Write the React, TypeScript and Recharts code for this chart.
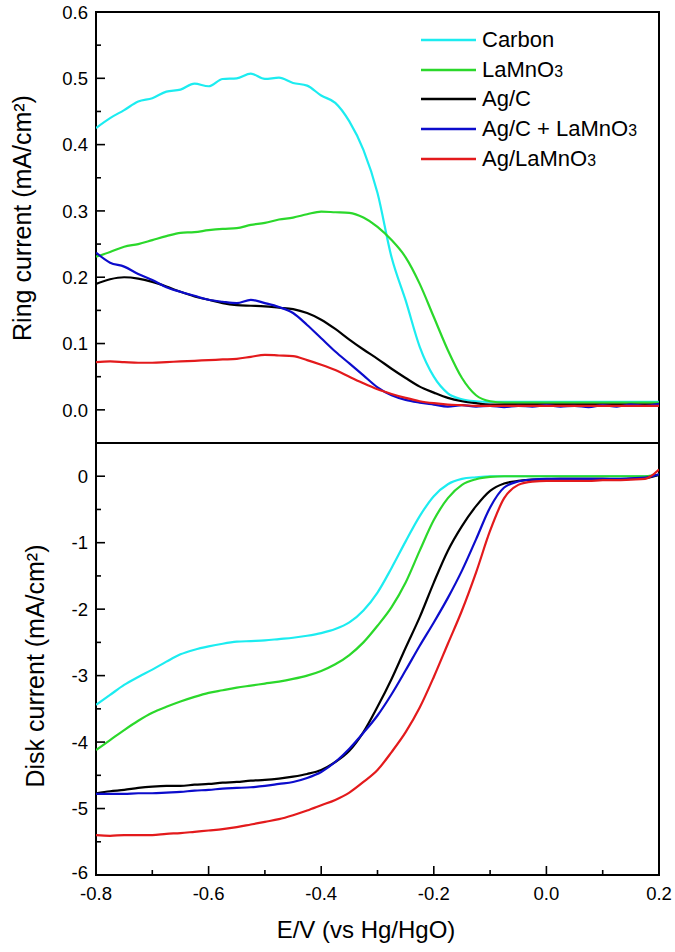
import React from "react";
import { Legend, Line, LineChart, ReferenceArea, XAxis, YAxis } from "recharts";

const FONT = '"Liberation Sans", Arial, Helvetica, sans-serif';

// potential, V vs Hg/HgO
const potential = [
  -0.8, -0.775, -0.75, -0.725, -0.7, -0.675, -0.65, -0.625, -0.6, -0.575,
  -0.55, -0.525, -0.5, -0.475, -0.45, -0.425, -0.4, -0.375, -0.35, -0.325,
  -0.3, -0.275, -0.25, -0.225, -0.2, -0.175, -0.15, -0.125, -0.1, -0.075,
  -0.05, -0.025, 0, 0.025, 0.05, 0.075, 0.1, 0.125, 0.15, 0.175, 0.2,
];

const seriesKeys = ["carbon", "lamno3", "agc", "agcMix", "agLamno3"];
const seriesNames = ["Carbon", "LaMnO3", "Ag/C", "Ag/C + LaMnO3", "Ag/LaMnO3"];
const seriesColors = ["#1cecf0", "#2bd82b", "#000000", "#0c0ccc", "#e31a1c"];

// ring current, mA/cm2
const ringCarbon = [
  0.425, 0.44, 0.452, 0.465, 0.47, 0.48, 0.483, 0.492, 0.488, 0.499,
  0.5, 0.507, 0.499, 0.501, 0.493, 0.489, 0.474, 0.463, 0.435, 0.392,
  0.327, 0.23, 0.165, 0.095, 0.05, 0.025, 0.016, 0.013, 0.012, 0.012,
  0.012, 0.012, 0.012, 0.012, 0.012, 0.012, 0.012, 0.012, 0.012, 0.012, 0.012,
];
const ringLaMnO3 = [
  0.231, 0.238, 0.246, 0.25, 0.256, 0.262, 0.267, 0.268, 0.271, 0.273,
  0.274, 0.279, 0.282, 0.287, 0.29, 0.295, 0.299, 0.298, 0.297, 0.29,
  0.276, 0.256, 0.23, 0.19, 0.14, 0.09, 0.048, 0.022, 0.013, 0.011,
  0.011, 0.011, 0.011, 0.011, 0.011, 0.011, 0.011, 0.011, 0.011, 0.011, 0.011,
];
const ringAgC = [
  0.19, 0.197, 0.2, 0.198, 0.193, 0.186, 0.178, 0.171, 0.166, 0.161,
  0.158, 0.157, 0.156, 0.154, 0.152, 0.146, 0.136, 0.122, 0.106, 0.091,
  0.077, 0.062, 0.048, 0.035, 0.026, 0.018, 0.013, 0.01, 0.008, 0.008,
  0.008, 0.008, 0.008, 0.008, 0.008, 0.008, 0.008, 0.008, 0.008, 0.008, 0.008,
];
const ringAgCMix = [
  0.237, 0.222, 0.216, 0.205, 0.196, 0.185, 0.178, 0.172, 0.166, 0.163,
  0.161, 0.166, 0.161, 0.155, 0.146, 0.128, 0.108, 0.088, 0.07, 0.052,
  0.034, 0.022, 0.015, 0.011, 0.008, 0.005, 0.007, 0.005, 0.006, 0.004,
  0.006, 0.005, 0.007, 0.005, 0.006, 0.004, 0.007, 0.005, 0.008, 0.006, 0.009,
];
const ringAgLaMnO3 = [
  0.072, 0.073, 0.072, 0.071, 0.071, 0.072, 0.073, 0.074, 0.075, 0.076,
  0.077, 0.08, 0.083, 0.082, 0.081, 0.075, 0.068, 0.06, 0.05, 0.04,
  0.031, 0.024, 0.018, 0.013, 0.01, 0.008, 0.007, 0.006, 0.006, 0.006,
  0.006, 0.006, 0.006, 0.006, 0.006, 0.006, 0.006, 0.006, 0.006, 0.006, 0.006,
];

// disk current, mA/cm2
const diskCarbon = [
  -3.44, -3.29, -3.14, -3.02, -2.91, -2.79, -2.68, -2.61, -2.56, -2.52,
  -2.49, -2.48, -2.47, -2.45, -2.43, -2.4, -2.36, -2.3, -2.2, -2.02,
  -1.75, -1.38, -0.98, -0.6, -0.3, -0.12, -0.04, -0.015, 0, 0,
  0, 0, 0, 0, 0, 0, 0, 0, 0, 0, 0.02,
];
const diskLaMnO3 = [
  -4.12, -3.97, -3.82, -3.68, -3.56, -3.47, -3.39, -3.32, -3.26, -3.22,
  -3.18, -3.15, -3.12, -3.09, -3.05, -3.0, -2.93, -2.83, -2.69, -2.5,
  -2.25, -1.97, -1.6, -1.12, -0.66, -0.33, -0.13, -0.045, -0.01, 0,
  0, 0, 0, 0, 0, 0, 0, 0, 0, 0, 0.02,
];
const diskAgC = [
  -4.77, -4.74, -4.72, -4.69, -4.67, -4.66, -4.66, -4.64, -4.63, -4.61,
  -4.6, -4.58, -4.57, -4.55, -4.52, -4.48, -4.42, -4.3, -4.13, -3.85,
  -3.47, -3.05, -2.58, -2.12, -1.6, -1.12, -0.75, -0.45, -0.22, -0.11,
  -0.07, -0.05, -0.045, -0.04, -0.04, -0.04, -0.04, -0.05, -0.04, -0.03, 0.02,
];
const diskAgCMix = [
  -4.78, -4.78, -4.78, -4.77, -4.77, -4.76, -4.75, -4.73, -4.72, -4.7,
  -4.69, -4.68, -4.66, -4.63, -4.6, -4.54, -4.45, -4.3, -4.1, -3.86,
  -3.6, -3.28, -2.92, -2.55, -2.2, -1.83, -1.42, -0.95, -0.47, -0.17,
  -0.08, -0.05, -0.04, -0.04, -0.04, -0.04, -0.04, -0.04, -0.03, -0.02, 0.03,
];
const diskAgLaMnO3 = [
  -5.4, -5.41, -5.4, -5.4, -5.4, -5.38, -5.37, -5.35, -5.33, -5.31,
  -5.28, -5.24, -5.2, -5.16, -5.1, -5.03, -4.95, -4.87, -4.76, -4.6,
  -4.42, -4.15, -3.85, -3.48, -3.02, -2.52, -2.02, -1.45, -0.82, -0.33,
  -0.13, -0.08, -0.07, -0.07, -0.07, -0.07, -0.06, -0.06, -0.05, -0.04, 0.1,
];

const potentialTicks = [-0.8, -0.7, -0.6, -0.5, -0.4, -0.3, -0.2, -0.1, 0, 0.1, 0.2];
const ringTicks = [0, 0.05, 0.1, 0.15, 0.2, 0.25, 0.3, 0.35, 0.4, 0.45, 0.5, 0.55, 0.6];
const diskTicks = [-6, -5.5, -5, -4.5, -4, -3.5, -3, -2.5, -2, -1.5, -1, -0.5, 0];

const ringSeries = [ringCarbon, ringLaMnO3, ringAgC, ringAgCMix, ringAgLaMnO3];
const diskSeries = [diskCarbon, diskLaMnO3, diskAgC, diskAgCMix, diskAgLaMnO3];

const toRows = (series: number[][]) =>
  potential.map((e, i) => {
    const row: Record<string, number> = { e };
    seriesKeys.forEach((k, s) => (row[k] = series[s][i]));
    return row;
  });

const ringData = toRows(ringSeries);
const diskData = toRows(diskSeries);

const isMajor = (v: number, step: number) => {
  const k = v / step;
  return Math.abs(k - Math.round(k)) < 1e-6;
};

function LeftTick(props: any) {
  const { x = 0, y = 0, payload, majorStep, digits, liftAt } = props;
  const v = payload?.value ?? 0;
  const major = isMajor(v, majorStep);
  // the lowest label sits just above the x tick labels
  const lift = liftAt !== undefined && v === liftAt ? -3 : 0;
  return (
    <g>
      <line x1={x} x2={x + (major ? 9 : 5)} y1={y} y2={y} stroke="#000" strokeWidth={1.6} />
      {major ? (
        <text x={x - 8} y={y + lift} dy="0.36em" textAnchor="end" fontSize={18.5} fontFamily={FONT} fill="#000">
          {v.toFixed(digits)}
        </text>
      ) : null}
    </g>
  );
}

function BottomTick(props: any) {
  const { x = 0, y = 0, payload } = props;
  const v = payload?.value ?? 0;
  const major = isMajor(v, 0.2);
  return (
    <g>
      <line x1={x} x2={x} y1={y} y2={y - (major ? 9 : 5)} stroke="#000" strokeWidth={1.6} />
      {major ? (
        <text x={x} y={y + 25} textAnchor="middle" fontSize={18.5} fontFamily={FONT} fill="#000">
          {v.toFixed(1)}
        </text>
      ) : null}
    </g>
  );
}

function AxisTitle(props: any) {
  const { px, py, text, vertical } = props;
  return (
    <text
      x={px}
      y={py}
      transform={vertical ? `rotate(-90 ${px} ${py})` : undefined}
      textAnchor="middle"
      fontSize={vertical ? 25 : 24}
      fontFamily={FONT}
      fill="#000"
    >
      {text}
    </text>
  );
}

const withSubscript = (name: string) =>
  name.split(/(\d)/).map((p, i) =>
    /\d/.test(p) ? (
      <span key={i} style={{ fontSize: "0.72em" }}>
        {p}
      </span>
    ) : (
      p
    )
  );

function SeriesLegend() {
  return (
    <div style={{ fontFamily: FONT, fontSize: 22, color: "#000" }}>
      {seriesNames.map((name, i) => (
        <div key={name} style={{ display: "flex", alignItems: "center", height: 29.75, whiteSpace: "nowrap" }}>
          <svg width={55} height={4} style={{ display: "block" }}>
            <line x1={0} x2={55} y1={2} y2={2} stroke={seriesColors[i]} strokeWidth={2.6} />
          </svg>
          <span style={{ marginLeft: 6 }}>{withSubscript(name)}</span>
        </div>
      ))}
    </div>
  );
}

const lines = (thick: number) =>
  seriesKeys.map((k, i) => (
    <Line
      key={k}
      dataKey={k}
      name={seriesNames[i]}
      stroke={seriesColors[i]}
      strokeWidth={thick}
      dot={false}
      type="monotone"
      isAnimationActive={false}
    />
  ));

export default function App() {
  return (
    <div style={{ position: "absolute", left: 0, top: 0, width: 675, height: 952, background: "#fff" }}>
      <div style={{ position: "absolute", left: 0, top: 0 }}>
        <LineChart width={675} height={444} data={ringData} margin={{ top: 12, right: 16, bottom: 1, left: 0 }}>
          <XAxis type="number" dataKey="e" domain={[-0.8, 0.2]} hide allowDataOverflow />
          <YAxis
            type="number"
            domain={[-0.05, 0.6]}
            ticks={ringTicks}
            interval={0}
            width={96}
            axisLine={false}
            tickLine={false}
            tickSize={0}
            tickMargin={0}
            allowDataOverflow
            tick={<LeftTick majorStep={0.1} digits={1} />}
            label={<AxisTitle px={31} py={218} vertical text="Ring current (mA/cm²)" />}
          />
          {lines(2.2)}
          <ReferenceArea x1={-0.8} x2={0.2} y1={-0.05} y2={0.6} fill="none" fillOpacity={0} stroke="#000" strokeWidth={2} />
          <Legend
            layout="horizontal"
            verticalAlign="middle"
            align="center"
            content={<SeriesLegend />}
            wrapperStyle={{ top: 25, left: 421, width: 250 }}
          />
        </LineChart>
      </div>
      <div style={{ position: "absolute", left: 0, top: 443 }}>
        <LineChart width={675} height={509} data={diskData} margin={{ top: 0, right: 16, bottom: 0, left: 0 }}>
          <XAxis
            type="number"
            dataKey="e"
            domain={[-0.8, 0.2]}
            ticks={potentialTicks}
            interval={0}
            height={77}
            axisLine={false}
            tickLine={false}
            tickSize={0}
            tickMargin={0}
            allowDataOverflow
            tick={<BottomTick />}
            label={<AxisTitle px={366} py={495} text="E/V (vs Hg/HgO)" />}
          />
          <YAxis
            type="number"
            domain={[-6, 0.5]}
            ticks={diskTicks}
            interval={0}
            width={96}
            axisLine={false}
            tickLine={false}
            tickSize={0}
            tickMargin={0}
            allowDataOverflow
            tick={<LeftTick majorStep={1} digits={0} liftAt={-6} />}
            label={<AxisTitle px={44} py={223} vertical text="Disk current (mA/cm²)" />}
          />
          {lines(2.2)}
          <ReferenceArea x1={-0.8} x2={0.2} y1={-6} y2={0.5} fill="none" fillOpacity={0} stroke="#000" strokeWidth={2} />
        </LineChart>
      </div>
    </div>
  );
}
